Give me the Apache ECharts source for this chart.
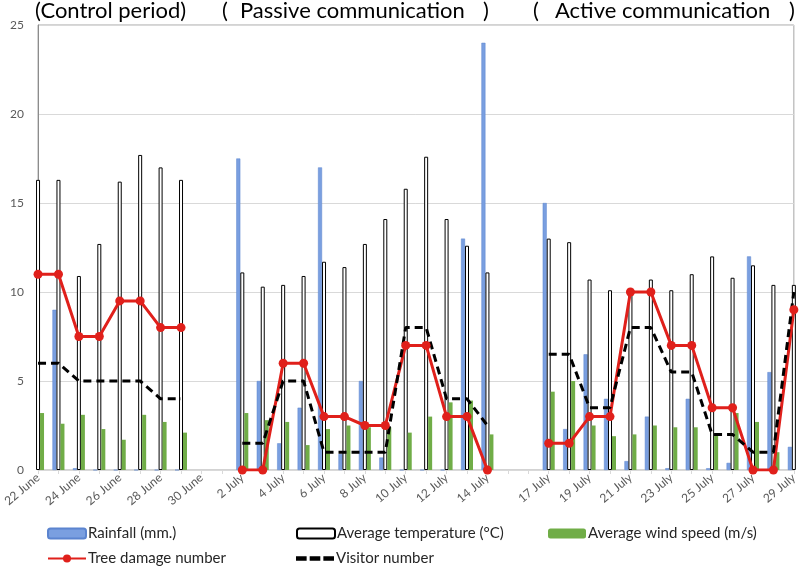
<!DOCTYPE html>
<html>
<head>
<meta charset="utf-8">
<script src="https://cdn.jsdelivr.net/npm/echarts@6.0.0/dist/echarts.min.js"></script>
<style>
  html, body { margin: 0; padding: 0; background: #fff; }
  #main { width: 800px; height: 566px; }
</style>
</head>
<body>
<div id="main"></div>
<script>
// one category per day, 22 June .. 29 July
const dates = [
    '22 June', '23 June', '24 June', '25 June', '26 June', '27 June', '28 June', '29 June', '30 June',
    '1 July', '2 July', '3 July', '4 July', '5 July', '6 July', '7 July', '8 July', '9 July',
    '10 July', '11 July', '12 July', '13 July', '14 July', '15 July', '16 July', '17 July',
    '18 July', '19 July', '20 July', '21 July', '22 July', '23 July', '24 July', '25 July',
    '26 July', '27 July', '28 July', '29 July'
];
// dates that carry a visible label
const shownLabels = [
    '22 June', '24 June', '26 June', '28 June', '30 June',
    '2 July', '4 July', '6 July', '8 July', '10 July', '12 July', '14 July',
    '17 July', '19 July', '21 July', '23 July', '25 July', '27 July', '29 July'
];

const rainfall = [
    null, 9.0, 0.1, 0, 0, 0, 0, 0, null, null,
    17.5, 5.0, 1.5, 3.5, 17.0, 0.9, 5.0, 0.7, 0, 0, 0, 13.0, 24.0, null, null,
    15.0, 2.3, 6.5, 4.0, 0.5, 3.0, 0.1, 4.0, 0.1, 0.4, 12.0, 5.5, 1.3
];
const temperature = [
    16.3, 16.3, 10.9, 12.7, 16.2, 17.7, 17.0, 16.3, null, null,
    11.1, 10.3, 10.4, 10.9, 11.7, 11.4, 12.7, 14.1, 15.8, 17.6, 14.1, 12.6, 11.1, null, null,
    13.0, 12.8, 10.7, 10.1, 10.0, 10.7, 10.1, 11.0, 12.0, 10.8, 11.5, 10.4, 10.4
];
const windSpeed = [
    3.2, 2.6, 3.1, 2.3, 1.7, 3.1, 2.7, 2.1, null, null,
    3.2, 2.8, 2.7, 1.4, 2.3, 2.5, 2.4, 2.4, 2.1, 3.0, 3.8, 3.9, 2.0, null, null,
    4.4, 5.0, 2.5, 1.9, 2.0, 2.5, 2.4, 2.4, 2.0, 3.2, 2.7, 1.0, null
];
const treeDamage = [
    11, 11, 7.5, 7.5, 9.5, 9.5, 8, 8, null, null,
    0, 0, 6, 6, 3, 3, 2.5, 2.5, 7, 7, 3, 3, 0, null, null,
    1.5, 1.5, 3, 3, 10, 10, 7, 7, 3.5, 3.5, 0, 0, 9
];
const visitors = [
    6, 6, 5, 5, 5, 5, 4, 4, null, null,
    1.5, 1.5, 5, 5, 1, 1, 1, 1, 8, 8, 4, 4, 2.5, null, null,
    6.5, 6.5, 3.5, 3.5, 8, 8, 5.5, 5.5, 2, 2, 1, 1, 10
];

const FONT = 'Lato';
const chart = echarts.init(document.getElementById('main'));

// 图例：每项单独放置，对齐两行三列
function legendAt(name, left, top, icon) {
    const item = icon ? { name: name, icon: icon } : name;
    return {
        data: [item], left: left, top: top, padding: 0,
        itemWidth: 38, itemHeight: 10, itemGap: 4,
        textStyle: { fontFamily: FONT, fontSize: 15, color: '#262626', padding: [0, 0, 0, -3] }
    };
}

function titleText(text, x) {
    return {
        type: 'text', left: x, top: 0,
        style: { text: text, fontFamily: FONT, fontSize: 22, fill: '#000' }
    };
}

const dashIcon = 'path://M0,0h7v3h-7z M9,0h7v3h-7z M18,0h7v3h-7z';

const option = {
    animation: false,
    textStyle: { fontFamily: FONT },
    graphic: [
        titleText('(Control period)', 35),
        titleText('(', 222),
        titleText('Passive communication', 240),
        titleText(')', 483),
        titleText('(', 533),
        titleText('Active communication', 555),
        titleText(')', 789)
    ],
    legend: [
        legendAt('Rainfall (mm.)', 47, 526),
        legendAt('Average temperature (°C)', 296, 526),
        legendAt('Average wind speed (m/s)', 548, 526),
        legendAt('Tree damage number', 47, 551),
        legendAt('Visitor number', 296, 551, dashIcon)
    ],
    grid: {
        left: 36.7, right: 5, top: 25, bottom: 96,
        show: true, borderColor: '#a6a6a6', borderWidth: 1
    },
    xAxis: {
        type: 'category',
        data: dates,
        boundaryGap: false,
        axisLine: { lineStyle: { color: '#d9d9d9' } },
        axisTick: { show: true, interval: 0, length: 4, lineStyle: { color: '#d9d9d9' } },
        axisLabel: {
            interval: (idx, val) => shownLabels.includes(val),
            rotate: 40, margin: 6,
            fontFamily: FONT, fontSize: 12, color: '#595959'
        },
        splitLine: { show: false }
    },
    yAxis: {
        type: 'value', min: 0, max: 25, interval: 5,
        axisLine: { show: true, lineStyle: { color: '#8c8c8c' } },
        axisTick: { show: false },
        axisLabel: { fontFamily: FONT, fontSize: 12, color: '#595959', margin: 14 },
        splitLine: { lineStyle: { color: '#d9d9d9' } }
    },
    series: [
        {
            name: 'Rainfall (mm.)', type: 'bar', data: rainfall,
            barWidth: 4, barGap: '0%',
            itemStyle: { color: '#7a9fe0', borderColor: '#5b84cf', borderWidth: 0.5 }
        },
        {
            name: 'Average temperature (°C)', type: 'bar', data: temperature,
            barWidth: 4, barGap: '0%',
            itemStyle: { color: '#ffffff', borderColor: '#000000', borderWidth: 1 }
        },
        {
            name: 'Average wind speed (m/s)', type: 'bar', data: windSpeed,
            barWidth: 4, barGap: '0%',
            itemStyle: { color: '#70ad47' }
        },
        {
            name: 'Tree damage number', type: 'line', data: treeDamage,
            symbol: 'circle', symbolSize: 9, connectNulls: false,
            lineStyle: { color: '#e0201b', width: 3 },
            itemStyle: { color: '#e0201b' }
        },
        {
            name: 'Visitor number', type: 'line', data: visitors,
            symbol: 'none', connectNulls: false,
            lineStyle: { color: '#000000', width: 3, type: [8, 5] },
            itemStyle: { color: '#000000' }
        }
    ]
};

chart.setOption(option);
</script>
</body>
</html>
